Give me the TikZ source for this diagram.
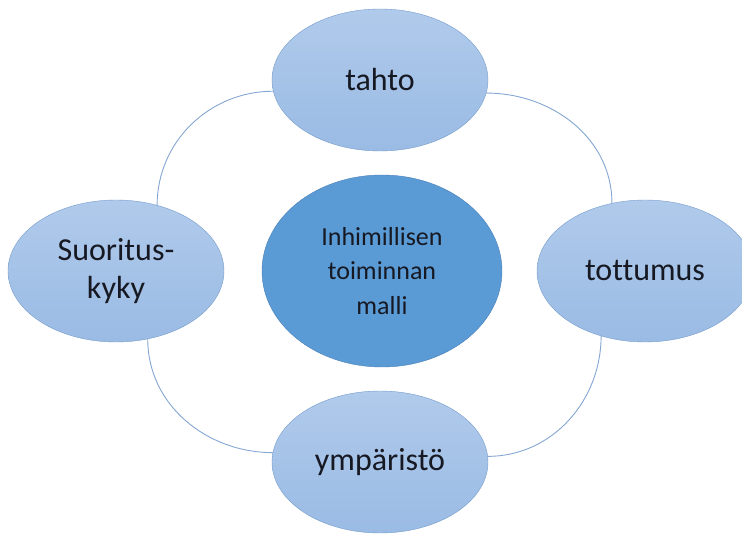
\documentclass[tikz,border=0pt]{standalone}
\usepackage{fontspec}
\setmainfont[Ligatures=NoCommon]{Carlito}
\usepackage{xcolor}
\usepackage{tikz}
\usetikzlibrary{shapes.geometric}
\definecolor{outtop}{RGB}{176,202,235}
\definecolor{outbot}{RGB}{154,187,228}
\definecolor{outline}{RGB}{118,156,204}
\definecolor{hubfill}{RGB}{91,155,213}
\definecolor{hubline}{RGB}{72,126,184}
\definecolor{arcline}{RGB}{132,166,210}
\definecolor{txt}{RGB}{22,24,34}
\tikzset{
  sat/.style ={draw=outline, ellipse, align=center, top color=outtop, bottom color=outbot, minimum width=216pt, minimum height=142pt, inner sep=0pt, text=txt, font=\fontsize{32}{38}\selectfont},
  hub/.style ={draw=hubline, ellipse, align=center, fill=hubfill, minimum width=240pt, minimum height=192pt, inner sep=0pt, text=txt, font=\fontsize{26}{34.5}\selectfont},
  arc/.style ={draw=arcline, line width=0.9pt},
}
\begin{document}
\begin{tikzpicture}[x=1pt, y=-1pt]
  \useasboundingbox (0,0) rectangle (742,534);
  \node[hub] (malli) at (382,271) {Inhimillisen\\toiminnan\\malli};
  \node[sat] (tahto) at (380,80) {tahto};
  \node[sat] (kyky) at (116,271) {Suoritus-\\kyky};
  \node[sat] (tottumus) at (645,271) {tottumus};
  \node[sat] (ymparisto) at (380,462) {ympäristö};

  \draw[arc] (kyky.58) to[out=90, in=180] (tahto.186);
  \draw[arc] (tahto.-7) to[out=0, in=90] (tottumus.116);
  \draw[arc] (kyky.-65) to[out=-90, in=180] (ymparisto.175);
  \draw[arc] (tottumus.236) to[out=-90, in=0] (ymparisto.3);
\end{tikzpicture}
\end{document}
